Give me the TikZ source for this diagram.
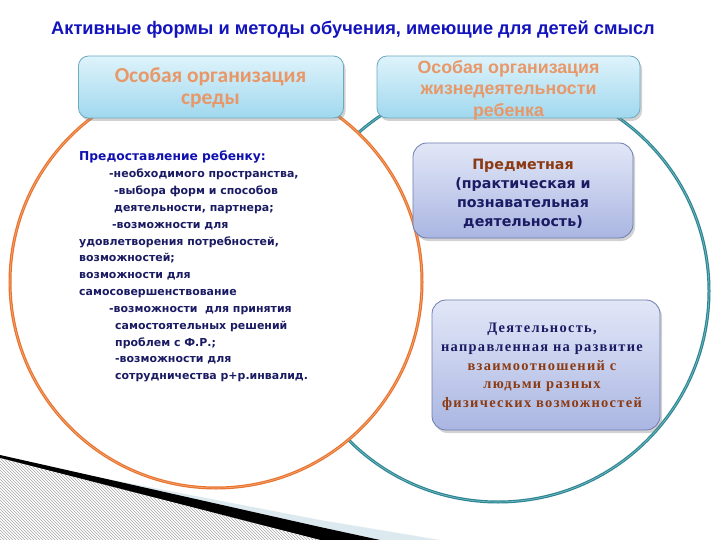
\documentclass[tikz,border=0pt]{standalone}
\usepackage{fontspec}
\setmainfont{DejaVu Sans}
\newfontfamily\arialf{Liberation Sans}
\newfontfamily\calf{Carlito}
\newfontfamily\timesf{Liberation Serif}[LetterSpace=9]
\newfontfamily\verdf{DejaVu Sans}
\usetikzlibrary{shadows}
\definecolor{orangeC}{RGB}{232,115,46}
\definecolor{orangeL}{RGB}{246,170,120}
\definecolor{tealC}{RGB}{45,133,146}
\definecolor{tealL}{RGB}{120,190,200}
\definecolor{titleblue}{RGB}{20,20,190}
\definecolor{headblue}{RGB}{16,16,176}
\definecolor{navy}{RGB}{27,27,100}
\definecolor{brownC}{RGB}{139,58,18}
\definecolor{salmon}{RGB}{232,152,104}
\definecolor{skyTop}{RGB}{222,243,251}
\definecolor{skyBot}{RGB}{160,216,238}
\definecolor{skyEdge}{RGB}{110,170,190}
\definecolor{lavTop}{RGB}{226,231,247}
\definecolor{lavBot}{RGB}{170,182,226}
\definecolor{lavEdge}{RGB}{110,125,175}
\definecolor{paleblue}{RGB}{220,233,239}
\tikzset{
  skybox/.style={draw=skyEdge, line width=0.8bp, rounded corners=10bp, top color=skyTop, bottom color=skyBot,
     drop shadow={opacity=0.35, shadow xshift=2bp, shadow yshift=-3bp}},
  lavbox/.style={draw=lavEdge, line width=0.8bp, rounded corners=14bp, top color=lavTop, bottom color=lavBot,
     drop shadow={opacity=0.35, shadow xshift=2bp, shadow yshift=-3bp}},
}
\begin{document}
\begin{tikzpicture}[x=1bp,y=-1bp]
\useasboundingbox (0,0) rectangle (720,540);
\fill[white] (0,0) rectangle (720,540);
% bottom-left decoration
\fill[paleblue] (0,455) -- (40,466) -- (320,520) -- (440,540) -- (0,540) -- cycle;
\fill[black] (0,455) -- (320,527) -- (380,540) -- (0,540) -- cycle;
\begin{scope}
  \clip (0,458) -- (320,540) -- (0,540) -- cycle;
  \fill[white] (0,440) rectangle (330,540);
  \foreach \i in {-120,-117,...,330} {
    \draw[gray!70, line width=0.5bp] (\i,455) -- (\i+90,545);
  }
\end{scope}
% title
\node[font=\arialf\bfseries\fontsize{18.3}{22}\selectfont, text=titleblue] (title) at (353,30)
  {Активные формы и методы обучения, имеющие для детей смысл};
% circles
\draw[tealC, line width=3bp] (498,291) circle[radius=211];
\draw[tealL, line width=0.6bp] (498,291) circle[radius=211];
\draw[orangeC, line width=3bp, fill=white] (216,282) circle[radius=206];
\draw[orangeL, line width=0.6bp] (216,282) circle[radius=206];
% top boxes
\node[skybox, minimum width=265bp, minimum height=62bp] (b1) at (211,87) {};
\node[font=\calf\bfseries\fontsize{21.5}{22}\selectfont, text=salmon, align=center] (t1) at (210.5,88)
  {Особая организация\\среды};
\node[skybox, minimum width=263bp, minimum height=62bp] (b2) at (508.5,87) {};
\node[font=\arialf\bfseries\fontsize{17.8}{21.5}\selectfont, text=salmon, align=center] (t2) at (508.5,90)
  {Особая организация\\жизнедеятельности\\ребенка};
% left text
\node[anchor=north west, inner sep=0pt, font=\verdf\bfseries\fontsize{11}{16.9}\selectfont, text=navy, align=left] (lt) at (79,151)
{\textcolor{headblue}{\fontsize{12.3}{16.9}\selectfont Предоставление ребенку:}\\
\hspace*{30bp}-необходимого пространства,\\
\hspace*{35bp}-выбора форм и способов\\
\hspace*{35bp}деятельности, партнера;\\
\hspace*{33bp}-возможности для\\
удовлетворения потребностей,\\
возможностей;\\
возможности для\\
самосовершенствование\\
\hspace*{30bp}-возможности \ для принятия\\
\hspace*{36bp}самостоятельных решений\\
\hspace*{36bp}проблем с Ф.Р.;\\
\hspace*{36bp}-возможности для\\
\hspace*{36bp}сотрудничества р+р.инвалид.};
% right boxes
\node[lavbox, minimum width=220bp, minimum height=95bp] (b3) at (523,190.5) {};
\node[font=\verdf\bfseries\fontsize{14.3}{19}\selectfont, text=navy, align=center] (t3) at (523,194)
{\textcolor{brownC}{Предметная}\\(практическая и\\познавательная\\деятельность)};
\node[lavbox, minimum width=228bp, minimum height=130bp] (b4) at (546,365) {};
\node[font=\timesf\bfseries\fontsize{14.5}{18.8}\selectfont, align=center] (t4) at (542,367)
{\textcolor{navy}{Деятельность,}\\\textcolor{navy}{направленная на развитие}\\\textcolor{brownC}{взаимоотношений с}\\\textcolor{brownC}{людьми разных}\\\textcolor{brownC}{физических возможностей}};
\end{tikzpicture}
\end{document}
